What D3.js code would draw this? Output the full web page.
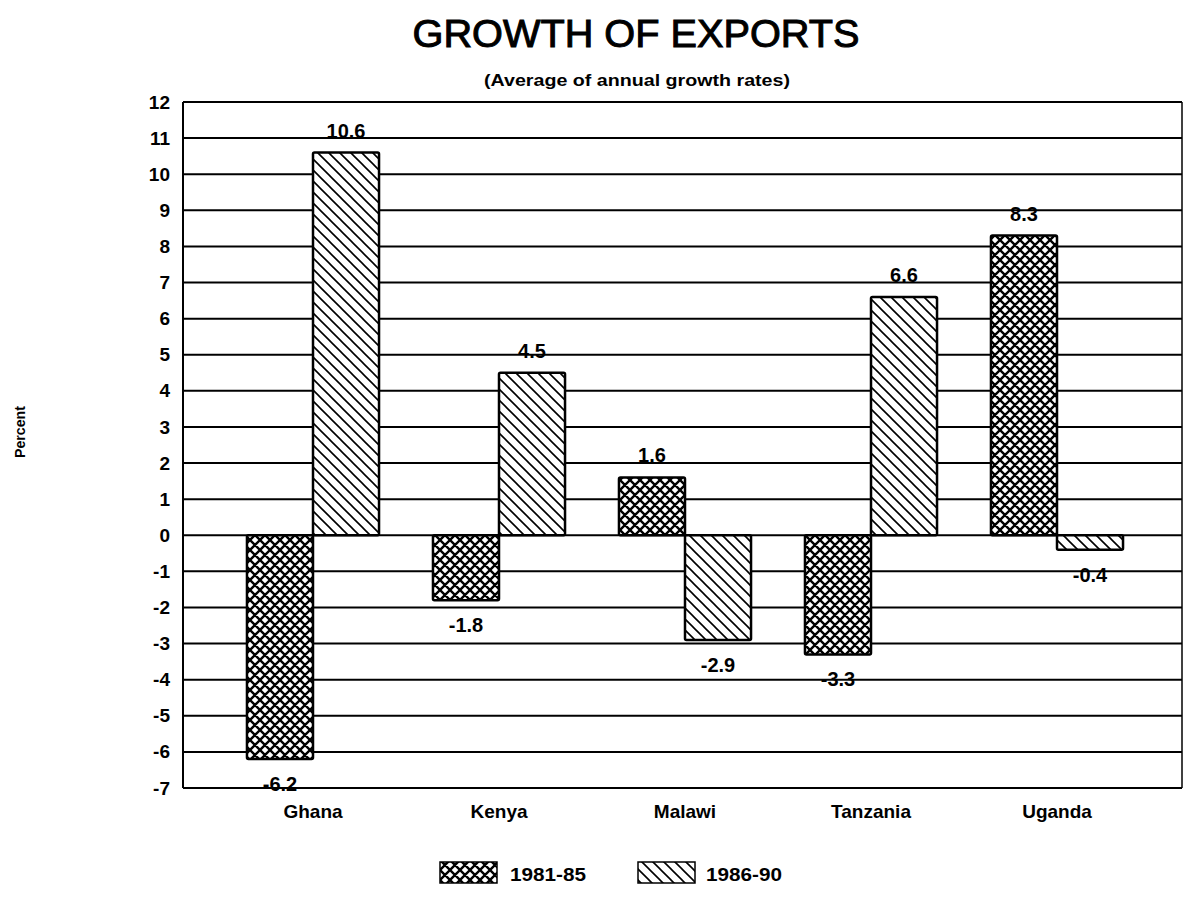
<!DOCTYPE html>
<html><head><meta charset="utf-8">
<script src="https://cdn.jsdelivr.net/npm/d3@7"></script>
<style>body{margin:0;background:#fff}text{font-family:"Liberation Sans",Arial,sans-serif;fill:#000}</style>
</head><body>
<svg id="c" width="1185" height="907"></svg>
<script>
const categories = ["Ghana","Kenya","Malawi","Tanzania","Uganda"];
const seriesNames = ["1981-85","1986-90"];
const values1981_85 = [-6.2,-1.8,1.6,-3.3,8.3];
const values1986_90 = [10.6,4.5,-2.9,6.6,-0.4];
const yTicks = [12,11,10,9,8,7,6,5,4,3,2,1,0,-1,-2,-3,-4,-5,-6,-7];
const series = [values1981_85, values1986_90];

const svg = d3.select("#c");
const L=183, R=1182, T=102, B=788;
const y = d3.scaleLinear().domain([-7,12]).range([B,T]);
const x0 = d3.scaleBand().domain(categories).range([220,1150]).paddingInner(0.29).paddingOuter(0.145);
const x1 = d3.scaleBand().domain(seriesNames).range([0,x0.bandwidth()]);

const defs = svg.append("defs");
const p1 = defs.append("pattern").attr("id","cross").attr("patternUnits","userSpaceOnUse").attr("width",10).attr("height",10);
p1.append("rect").attr("width",10).attr("height",10).attr("fill","#fff");
p1.append("path").attr("d","M-1,-1L11,11M-1,9L1,11M9,-1L11,1M-1,11L11,-1M-1,1L1,-1M9,11L11,9").attr("stroke","#000").attr("stroke-width",2.4);
const p2 = defs.append("pattern").attr("id","hatch").attr("patternUnits","userSpaceOnUse").attr("width",11).attr("height",11);
p2.append("rect").attr("width",11).attr("height",11).attr("fill","#fff");
p2.append("path").attr("d","M-1,-1L12,12M-1,10L1,12M10,-1L12,1").attr("stroke","#000").attr("stroke-width",1.6);
const fills = ["url(#cross)","url(#hatch)"];

// title
svg.append("text").attr("x",636).attr("y",47).attr("text-anchor","middle").attr("font-size",39)
  .attr("stroke","#000").attr("stroke-width",1.0)
  .attr("textLength",447).attr("lengthAdjust","spacingAndGlyphs").text("GROWTH OF EXPORTS");
svg.append("text").attr("x",637).attr("y",86).attr("text-anchor","middle").attr("font-size",17).attr("font-weight","bold")
  .attr("textLength",306).attr("lengthAdjust","spacingAndGlyphs").text("(Average of annual growth rates)");
svg.append("text").attr("transform","translate(25,432) rotate(-90)").attr("text-anchor","middle").attr("font-size",15).attr("font-weight","bold")
  .attr("textLength",52).attr("lengthAdjust","spacingAndGlyphs").text("Percent");

// gridlines
svg.append("g").selectAll("line").data(yTicks).join("line")
  .attr("x1",L).attr("x2",R).attr("y1",d=>y(d)).attr("y2",d=>y(d)).attr("stroke","#000").attr("stroke-width",2);
svg.append("line").attr("x1",L).attr("x2",L).attr("y1",T).attr("y2",B).attr("stroke","#000").attr("stroke-width",2);
svg.append("line").attr("x1",R).attr("x2",R).attr("y1",T).attr("y2",B).attr("stroke","#000").attr("stroke-width",1.5);

// y axis labels
const ya = svg.append("g").attr("transform",`translate(${L},0)`).call(d3.axisLeft(y).tickValues(yTicks).tickSize(0).tickPadding(13).tickFormat(d=>d<0?"-"+Math.abs(d):d));
ya.select(".domain").remove();
ya.selectAll("text").attr("font-size",19).attr("font-weight","bold").attr("font-family","Liberation Sans, Arial, sans-serif");

// bars
const g = svg.append("g");
categories.forEach((c,i)=>{
  series.forEach((s,j)=>{
    const v = s[i];
    const bx = x0(c)+x1(seriesNames[j]);
    g.append("rect").attr("x",bx).attr("width",x1.bandwidth())
      .attr("y",y(Math.max(0,v))).attr("height",Math.abs(y(v)-y(0)))
      .attr("fill",fills[j]).attr("stroke","#000").attr("stroke-width",2.5).attr("rx",1.5);
    g.append("text").attr("x",bx+x1.bandwidth()/2)
      .attr("y", v>=0 ? y(v)-15 : y(v)+32)
      .attr("text-anchor","middle").attr("font-size",20).attr("font-weight","bold")
      .text(v.toFixed(1));
  });
});

// x labels
const xa = svg.append("g").attr("transform",`translate(0,${B})`).call(d3.axisBottom(x0).tickSize(0).tickPadding(17));
xa.select(".domain").remove();
xa.selectAll("text").attr("font-size",19).attr("font-weight","bold").attr("font-family","Liberation Sans, Arial, sans-serif");

// legend
const leg = [{x:440,tx:510,t:seriesNames[0],f:fills[0]},{x:638,tx:706,t:seriesNames[1],f:fills[1]}];
leg.forEach(l=>{
  svg.append("rect").attr("x",l.x).attr("y",862).attr("width",57).attr("height",21).attr("fill",l.f).attr("stroke","#000").attr("stroke-width",1.5);
  svg.append("text").attr("x",l.tx).attr("y",881).attr("font-size",19).attr("font-weight","bold")
    .attr("textLength",76).attr("lengthAdjust","spacingAndGlyphs").text(l.t);
});
</script>
</body></html>
